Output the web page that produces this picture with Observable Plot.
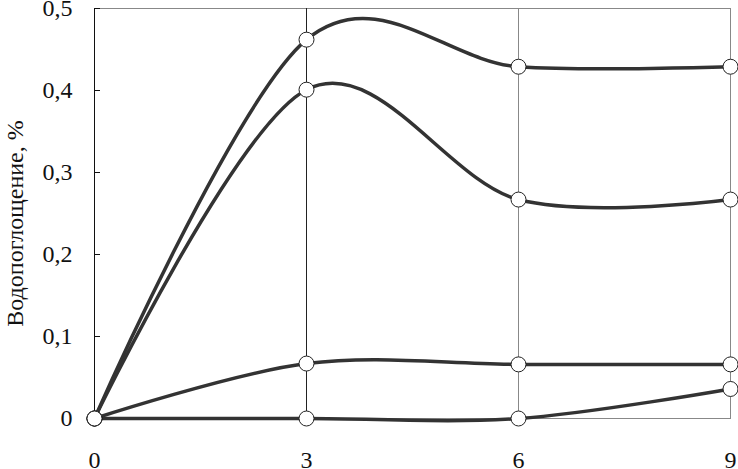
<!DOCTYPE html>
<html>
<head>
<meta charset="utf-8">
<script src="https://cdn.jsdelivr.net/npm/d3@7"></script>
<script src="https://cdn.jsdelivr.net/npm/@observablehq/plot@0.6"></script>
<style>
  html, body { margin: 0; padding: 0; background: #fff; }
  #chart svg { display: block; }
  #chart svg text { font-family: "Liberation Serif", "Times New Roman", Times, serif; }
</style>
</head>
<body>
<div id="chart"></div>
<script>
const xValues = [0, 3, 6, 9];
const seriesA = [0, 0.462, 0.429, 0.429];
const seriesB = [0, 0.401, 0.267, 0.267];
const seriesC = [0, 0.067, 0.066, 0.066];
const seriesD = [0, 0.0, 0.0, 0.036];
const xTicks = [0, 3, 6, 9];
const yTicks = [0, 0.1, 0.2, 0.3, 0.4, 0.5];
const yLabel = "Водопоглощение, %";

const seriesList = [["A", seriesA], ["B", seriesB], ["C", seriesC], ["D", seriesD]];
const rows = seriesList.flatMap(([name, vals]) => vals.map((v, i) => ({series: name, x: xValues[i], y: v})));

const fmt = d => d === 0 ? "0" : d3.format(".1f")(d).replace(".", ",");
const font = '"Liberation Serif", "Times New Roman", Times, serif';

const chart = Plot.plot({
  width: 738,
  height: 469,
  marginLeft: 94,
  marginRight: 8,
  marginTop: 8,
  marginBottom: 51,
  style: {fontFamily: font, fontSize: "24px", background: "#fff", color: "#111"},
  x: {domain: [0, 9]},
  y: {domain: [0, 0.5]},
  marks: [
    Plot.frame({stroke: "#888", strokeWidth: 1}),
    Plot.ruleX([3], {stroke: "#222", strokeWidth: 1}),
    Plot.ruleX([6], {stroke: "#888", strokeWidth: 1}),
    Plot.ruleX([0], {stroke: "#111", strokeWidth: 1}),
    Plot.axisY({ticks: yTicks.filter(d => d > 0), tickSize: 6, dx: 6, tickFormat: () => "", label: null, stroke: "#111"}),
    Plot.axisY({ticks: yTicks, tickSize: 0, tickPadding: 22, tickFormat: fmt, label: null, fontSize: 24, fill: "#111"}),
    Plot.axisX({ticks: xTicks, tickSize: 0, tickPadding: 32, tickFormat: d => String(d), label: null, fontSize: 24, fill: "#111"}),
    Plot.text([yLabel], {text: d => d, frameAnchor: "left", rotate: -90, dx: -79, dy: 10, fontSize: 24, fill: "#111", textAnchor: "middle", lineAnchor: "middle"}),
    Plot.line(rows, {x: "x", y: "y", z: "series", curve: "cardinal", tension: 0, stroke: "#333", strokeWidth: 3.5}),
    Plot.dot(rows, {x: "x", y: "y", r: 7.5, fill: "#fff", stroke: "#222", strokeWidth: 1})
  ]
});
document.getElementById("chart").appendChild(chart);
</script>
</body>
</html>
